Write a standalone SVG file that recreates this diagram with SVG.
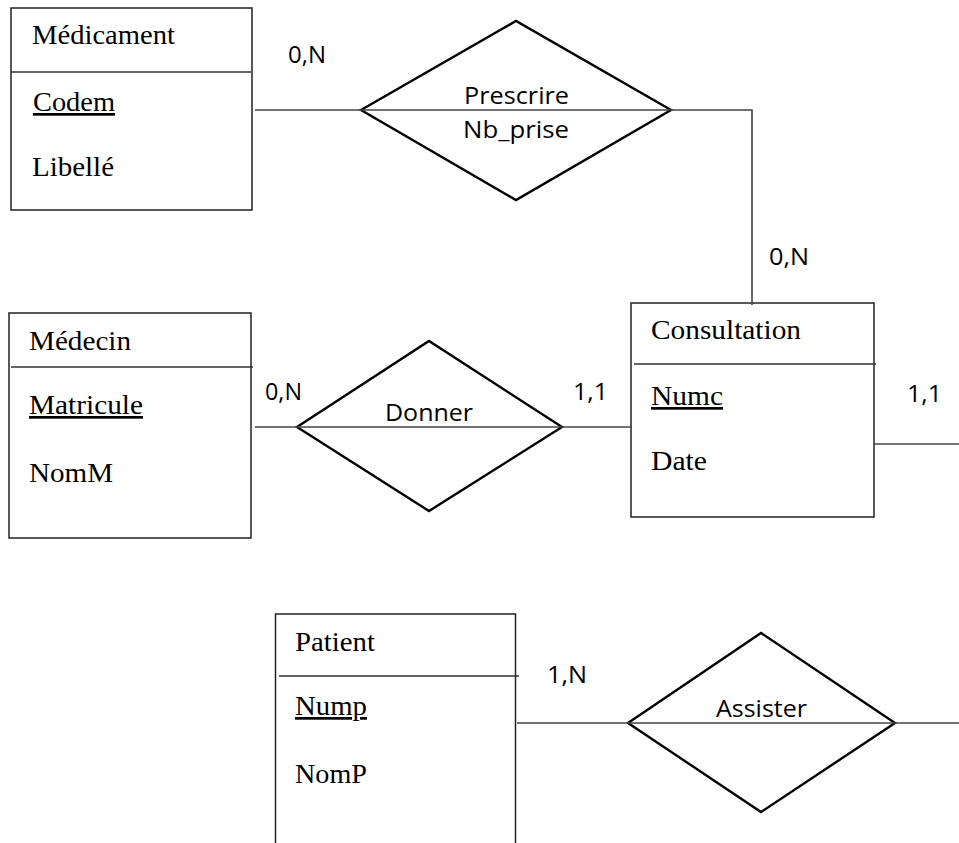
<svg xmlns="http://www.w3.org/2000/svg" width="959" height="843" viewBox="0 0 959 843">
  <style>
    .box { fill: #ffffff; stroke: #222222; stroke-width: 1.5; }
    .div { stroke: #333333; stroke-width: 1.5; fill: none; }
    .rel { fill: none; stroke: #000000; stroke-width: 2.4; stroke-linejoin: miter; }
    .link { fill: none; stroke: #444444; stroke-width: 1.6; }
    .ent { font-family: "Liberation Serif", "Times New Roman", serif; font-size: 27px; fill: #000000; }
    .key { text-decoration: underline; }
    .lbl { font-family: "Open Sans", "Noto Sans", sans-serif; font-size: 24px; fill: #000000; }
    .card { font-family: "Open Sans", "Noto Sans", sans-serif; font-size: 23px; fill: #000000; }
  </style>

  <rect x="0" y="0" width="959" height="843" fill="#ffffff"/>

  <!-- entities -->
  <g id="medicament">
    <rect class="box" x="11" y="8" width="241" height="202"/>
    <line class="div" x1="11" y1="72" x2="251" y2="72"/>
    <text class="ent" x="32" y="44" textLength="143" lengthAdjust="spacingAndGlyphs">Médicament</text>
    <text class="ent key" x="33" y="111" textLength="82" lengthAdjust="spacingAndGlyphs">Codem</text>
    <text class="ent" x="32" y="176" textLength="82" lengthAdjust="spacingAndGlyphs">Libellé</text>
  </g>

  <g id="medecin">
    <rect class="box" x="9" y="313" width="242" height="225"/>
    <line class="div" x1="11" y1="367" x2="253" y2="367"/>
    <text class="ent" x="29" y="350" textLength="102" lengthAdjust="spacingAndGlyphs">Médecin</text>
    <text class="ent key" x="29" y="414" textLength="114" lengthAdjust="spacingAndGlyphs">Matricule</text>
    <text class="ent" x="29" y="482" textLength="84" lengthAdjust="spacingAndGlyphs">NomM</text>
  </g>

  <g id="consultation">
    <rect class="box" x="631" y="303" width="243" height="214"/>
    <line class="div" x1="634" y1="364" x2="876" y2="364"/>
    <text class="ent" x="651" y="339" textLength="150" lengthAdjust="spacingAndGlyphs">Consultation</text>
    <text class="ent key" x="651" y="405" textLength="72" lengthAdjust="spacingAndGlyphs">Numc</text>
    <text class="ent" x="651" y="470" textLength="56" lengthAdjust="spacingAndGlyphs">Date</text>
  </g>

  <g id="patient">
    <path class="box" d="M275.5 845 V614 H515.5 V845"/>
    <line class="div" x1="279" y1="676" x2="519" y2="676"/>
    <text class="ent" x="295" y="651" textLength="80" lengthAdjust="spacingAndGlyphs">Patient</text>
    <text class="ent key" x="295" y="715" textLength="72" lengthAdjust="spacingAndGlyphs">Nump</text>
    <text class="ent" x="295" y="783" textLength="72" lengthAdjust="spacingAndGlyphs">NomP</text>
  </g>

  <!-- associations -->
  <g id="prescrire">
    <polygon class="rel" points="361,110 516,21 671,110 516,200"/>
    <text class="lbl" x="464" y="104" textLength="105" lengthAdjust="spacingAndGlyphs">Prescrire</text>
    <text class="lbl" x="463" y="138" textLength="106" lengthAdjust="spacingAndGlyphs">Nb_prise</text>
  </g>

  <g id="donner">
    <polygon class="rel" points="297,427 429,341 562,427 429,511"/>
    <text class="lbl" x="385" y="421" textLength="88" lengthAdjust="spacingAndGlyphs">Donner</text>
  </g>

  <g id="assister">
    <polygon class="rel" points="628,723 761,633 895,723 761,812"/>
    <text class="lbl" x="716" y="717" textLength="91" lengthAdjust="spacingAndGlyphs">Assister</text>
  </g>

  <!-- links and cardinalities -->
  <g id="connectors">
    <path class="link" d="M255 110 H752 V305"/>
    <path class="link" d="M255 427 H632"/>
    <path class="link" d="M874 444 H959"/>
    <path class="link" d="M517 723 H959"/>

    <text class="card" x="288" y="63" textLength="38" lengthAdjust="spacingAndGlyphs">0,N</text>
    <text class="card" x="769" y="265" textLength="40" lengthAdjust="spacingAndGlyphs">0,N</text>
    <text class="card" x="265" y="400" textLength="37" lengthAdjust="spacingAndGlyphs">0,N</text>
    <text class="card" x="573" y="400" textLength="35" lengthAdjust="spacingAndGlyphs">1,1</text>
    <text class="card" x="907" y="402" textLength="35" lengthAdjust="spacingAndGlyphs">1,1</text>
    <text class="card" x="547" y="683" textLength="40" lengthAdjust="spacingAndGlyphs">1,N</text>
  </g>
</svg>
